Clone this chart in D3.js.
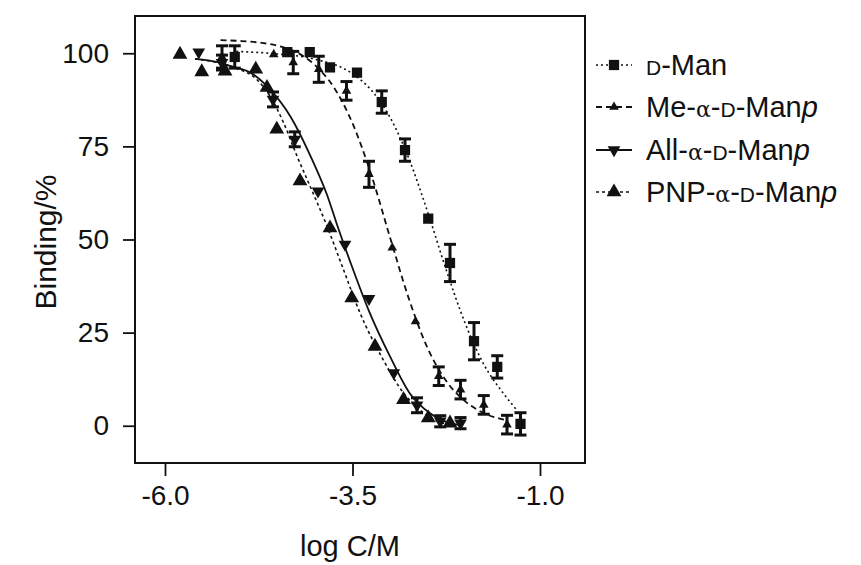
<!DOCTYPE html>
<html>
<head>
<meta charset="utf-8">
<script src="https://cdn.jsdelivr.net/npm/d3@7"></script>
<style>
  body { margin: 0; background: #fff; }
  svg { display: block; font-family: "Liberation Sans", Arial, sans-serif; }
</style>
</head>
<body>
<svg id="chart" width="861" height="565"></svg>
<script>
// ---------- data ----------
const seriesNames = ["D-Man", "Me-α-D-Manp", "All-α-D-Manp", "PNP-α-D-Manp"];
const xTicks = [-6.0, -3.5, -1.0];
const yTicks = [0, 25, 50, 75, 100];

// measured points: [logC, binding %, error]
const dManPoints = [[-5.07, 99.0, 3], [-4.37, 100.3, 0], [-4.07, 100.3, 0], [-3.80, 96.2, 0], [-3.44, 94.8, 0],
  [-3.11, 86.9, 3], [-2.80, 74.0, 3], [-2.49, 55.6, 0], [-2.20, 43.7, 5], [-1.88, 22.7, 5],
  [-1.57, 15.8, 3], [-1.26, 0.5, 3]];
const mePoints = [[-5.24, 99.0, 3], [-4.55, 99.7, 0], [-4.29, 97.5, 3], [-3.95, 95.7, 3.5], [-3.58, 89.9, 2.5],
  [-3.28, 67.5, 3.5], [-2.97, 47.8, 0], [-2.66, 28.0, 0], [-2.35, 13.3, 2.5], [-2.06, 9.7, 2.5],
  [-1.75, 5.6, 2.5], [-1.44, 0.3, 2.5]];
const allPoints = [[-5.55, 100.3, 0], [-5.24, 97.5, 2], [-4.56, 87.6, 2], [-4.27, 76.9, 2], [-3.96, 63.0, 0],
  [-3.60, 48.7, 0], [-3.28, 34.1, 0], [-2.95, 14.2, 0], [-2.64, 5.5, 2], [-2.33, 1.2, 1.5],
  [-2.06, 0.7, 1.5]];
const pnpPoints = [[-5.80, 99.7, 0], [-5.51, 95.0, 0], [-5.20, 95.2, 0], [-4.79, 95.7, 0], [-4.64, 90.8, 0],
  [-4.51, 79.6, 0], [-4.20, 65.7, 0], [-3.80, 53.1, 0], [-3.51, 34.3, 0], [-3.20, 21.3, 0],
  [-2.82, 7.0, 0], [-2.49, 2.1, 0], [-2.20, 0.7, 0]];

// fitted curves: [logC, binding %]
const dManCurve = [[-5.05, 100.5], [-4.5, 99.8], [-4.0, 98.4], [-3.5, 94.5], [-3.25, 90.1], [-3.0, 82.8],
  [-2.75, 71.8], [-2.5, 57.5], [-2.25, 41.8], [-2.0, 27.6], [-1.75, 16.5], [-1.5, 9.0], [-1.3, 4.0]];
const meCurve = [[-5.26, 103.5], [-5.0, 103.3], [-4.5, 102.0], [-4.0, 96.8], [-3.75, 90.9], [-3.5, 81.2],
  [-3.25, 67.4], [-3.0, 50.6], [-2.75, 34.2], [-2.5, 20.9], [-2.25, 12.0], [-2.0, 6.6], [-1.75, 3.4], [-1.45, 1.5]];
const allCurve = [[-5.6, 98.5], [-5.3, 97.6], [-5.13, 96.6], [-4.86, 94.8], [-4.6, 90.3], [-4.33, 83.1],
  [-4.06, 72.4], [-3.84, 62.0], [-3.69, 53.0], [-3.53, 44.0], [-3.27, 30.3], [-3.0, 18.6], [-2.74, 8.8],
  [-2.47, 3.4], [-2.2, 0.7], [-2.05, 0.2]];
const pnpCurve = [[-5.6, 98.5], [-5.09, 96.2], [-4.78, 93.0], [-4.6, 88.5], [-4.42, 81.4], [-4.24, 72.4],
  [-4.07, 64.5], [-3.84, 53.6], [-3.62, 41.9], [-3.4, 30.3], [-3.09, 17.7], [-2.82, 8.8], [-2.55, 3.4],
  [-2.37, 1.2], [-2.2, 0.4]];

// ---------- chart ----------
const svg = d3.select("#chart");
const mLeft = 135, mRight = 585, mTop = 16, mBottom = 463;
const x = d3.scaleLinear().domain([-6.4, -0.4]).range([mLeft, mRight]);
const y = d3.scaleLinear().domain([-10, 110]).range([mBottom, mTop]);

const series = [
  { name: seriesNames[0], pts: dManPoints, curve: dManCurve, dash: "2,3", width: 1.6, sym: d3.symbolSquare, size: 105, rot: 0 },
  { name: seriesNames[1], pts: mePoints, curve: meCurve, dash: "6,4", width: 1.8, sym: d3.symbolTriangle, size: 40, rot: 0 },
  { name: seriesNames[2], pts: allPoints, curve: allCurve, dash: null, width: 1.8, sym: d3.symbolTriangle, size: 70, rot: 180 },
  { name: seriesNames[3], pts: pnpPoints, curve: pnpCurve, dash: "3,3", width: 1.6, sym: d3.symbolTriangle, size: 95, rot: 0 }
];

// frame
svg.append("rect").attr("x", mLeft).attr("y", mTop).attr("width", mRight - mLeft).attr("height", mBottom - mTop)
  .attr("fill", "none").attr("stroke", "#111").attr("stroke-width", 2);

// axes
const yAxis = d3.axisLeft(y).tickValues(yTicks).tickSize(12).tickPadding(14).tickFormat(d3.format("d"));
const gy = svg.append("g").attr("transform", `translate(${mLeft},0)`).call(yAxis);
gy.select(".domain").remove();
gy.selectAll("line").attr("stroke", "#111").attr("stroke-width", 1.8);
gy.selectAll("text").attr("font-size", 28).attr("fill", "#111").attr("font-family", "Liberation Sans, Arial, sans-serif");

const xAxis = d3.axisBottom(x).tickValues(xTicks).tickSize(13).tickPadding(9).tickFormat(d3.format(".1f"));
const gx = svg.append("g").attr("transform", `translate(0,${mBottom})`).call(xAxis);
gx.select(".domain").remove();
gx.selectAll("line").attr("stroke", "#111").attr("stroke-width", 1.8);
gx.selectAll("text").attr("font-size", 28).attr("fill", "#111").attr("font-family", "Liberation Sans, Arial, sans-serif")
  .text(d => d3.format(".1f")(d).replace("−", "-"));

// axis titles
svg.append("text").attr("x", 350).attr("y", 556).attr("text-anchor", "middle")
  .attr("font-size", 29).attr("fill", "#111").text("log C/M");
svg.append("text").attr("transform", `translate(56,242) rotate(-90)`).attr("text-anchor", "middle")
  .attr("font-size", 30).attr("fill", "#111").text("Binding/%");

// curves
const line = d3.line().x(d => x(d[0])).y(d => y(d[1])).curve(d3.curveMonotoneX);
series.forEach(s => {
  svg.append("path").datum(s.curve).attr("d", line).attr("fill", "none").attr("stroke", "#111")
    .attr("stroke-width", s.width).attr("stroke-dasharray", s.dash);
});

// error bars and markers
series.forEach(s => {
  const g = svg.append("g");
  s.pts.filter(p => p[2] > 0).forEach(p => {
    const cx = x(p[0]);
    g.append("line").attr("x1", cx).attr("x2", cx).attr("y1", y(p[1] - p[2])).attr("y2", y(p[1] + p[2]))
      .attr("stroke", "#111").attr("stroke-width", 3);
    [p[1] - p[2], p[1] + p[2]].forEach(v => {
      g.append("line").attr("x1", cx - 6).attr("x2", cx + 6).attr("y1", y(v)).attr("y2", y(v))
        .attr("stroke", "#111").attr("stroke-width", 3);
    });
  });
  g.selectAll("path.m").data(s.pts).join("path").attr("class", "m")
    .attr("d", d3.symbol().type(s.sym).size(s.size))
    .attr("transform", d => `translate(${x(d[0])},${y(d[1])}) rotate(${s.rot})`)
    .attr("fill", "#111");
});

// legend
const legendY = [65, 107, 150, 192];
series.forEach((s, i) => {
  const ly = legendY[i];
  const g = svg.append("g");
  g.append("line").attr("x1", 596).attr("x2", 632).attr("y1", ly).attr("y2", ly)
    .attr("stroke", "#111").attr("stroke-width", s.width).attr("stroke-dasharray", s.dash);
  g.append("path").attr("d", d3.symbol().type(s.sym).size(s.size))
    .attr("transform", `translate(614,${ly}) rotate(${s.rot})`).attr("fill", "#111");
  const t = g.append("text").attr("x", 646).attr("y", ly + 10).attr("font-size", 29).attr("fill", "#111");
  const prefix = s.name.split("-")[0];
  const pieces = [];
  if (i === 0) {
    pieces.push(["D", "sc"], ["-Man", ""]);
  } else {
    pieces.push([prefix + "-", ""], ["α", "greek"], ["-", ""], ["D", "sc"], ["-Man", ""], ["p", "it"]);
  }
  pieces.forEach(([txt, kind]) => {
    const ts = t.append("tspan").text(txt);
    if (kind === "sc") ts.attr("font-size", 21);
    if (kind === "greek") ts.attr("font-family", "DejaVu Serif, serif").attr("font-size", 22);
    if (kind === "it") ts.attr("font-style", "italic");
  });
});
</script>
</body>
</html>
